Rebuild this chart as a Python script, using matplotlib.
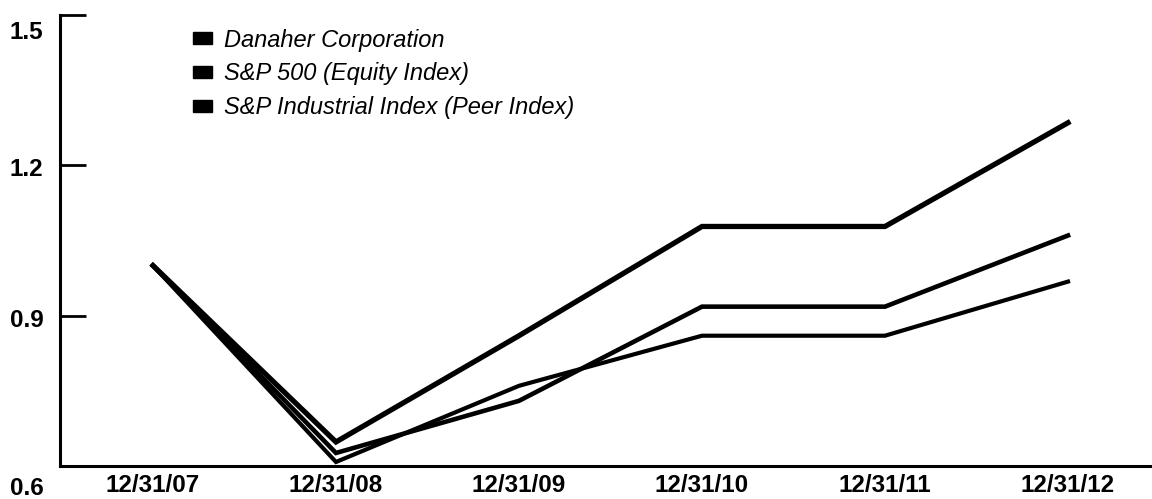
import matplotlib.pyplot as plt
from matplotlib.patches import Patch
import matplotlib.transforms as mtransforms

plt.rcParams['font.family'] = ['Liberation Sans', 'DejaVu Sans']

dates = ['12/31/07', '12/31/08', '12/31/09', '12/31/10', '12/31/11', '12/31/12']
danaher = [1.0, 0.648, 0.86, 1.078, 1.078, 1.285]
sp_industrial = [1.0, 0.626, 0.73, 0.918, 0.918, 1.06]
sp500 = [1.0, 0.608, 0.76, 0.86, 0.86, 0.968]
names = ['Danaher Corporation', 'S&P 500 (Equity Index)', 'S&P Industrial Index (Peer Index)']
yticks = [0.6, 0.9, 1.2, 1.5]

fig = plt.figure(figsize=(11.52, 4.99), dpi=100)
ax = fig.add_axes([60/1152, 1 - 466/499, 1 - 60/1152, (466 - 15)/499])

x = list(range(len(dates)))
ax.plot(x, danaher, color='black', lw=3.8, solid_joinstyle='miter')
ax.plot(x, sp_industrial, color='black', lw=3.3, solid_joinstyle='miter')
ax.plot(x, sp500, color='black', lw=3.0, solid_joinstyle='miter')

ax.set_xlim(-0.508, 5.459)
ax.set_ylim(0.6, 1.5)
ax.spines['top'].set_visible(False)
ax.spines['right'].set_visible(False)
ax.spines['left'].set_linewidth(2.2)
ax.spines['bottom'].set_linewidth(2.2)

tick_font = {'family': ['Liberation Sans'], 'weight': 'bold', 'size': 17.5}

ax.set_yticks(yticks)
ax.set_yticklabels([f'{v:.1f}' for v in yticks], fontdict=tick_font)
ax.tick_params(axis='y', direction='in', length=19, width=2.0, pad=12)
ax.set_xticks(x)
ax.set_xticklabels(dates, fontdict=tick_font)
ax.tick_params(axis='x', length=0, pad=6)
ax.set_xticks([0], minor=True)
ax.tick_params(axis='x', which='minor', direction='in', length=7, width=1.8)

# nudge the end labels of the y axis like the reference
for lab in ax.get_yticklabels():
    txt = lab.get_text()
    if txt == '1.5':
        dy = -15
    elif txt == '0.6':
        dy = -20
    else:
        dy = -2
    off = mtransforms.ScaledTranslation(0, dy / 100, fig.dpi_scale_trans)
    lab.set_transform(lab.get_transform() + off)

handles = [Patch(facecolor='black', edgecolor='black') for _ in names]
leg = fig.legend(handles, names, loc='upper left', bbox_to_anchor=(181/1152, 1 - 17/499),
                 bbox_transform=fig.transFigure, frameon=False, borderpad=0,
                 handlelength=0.8, handleheight=0.42, handletextpad=0.5,
                 labelspacing=0.45, prop={'size': 17, 'style': 'italic'})

fig.savefig('out.png', dpi=100)
